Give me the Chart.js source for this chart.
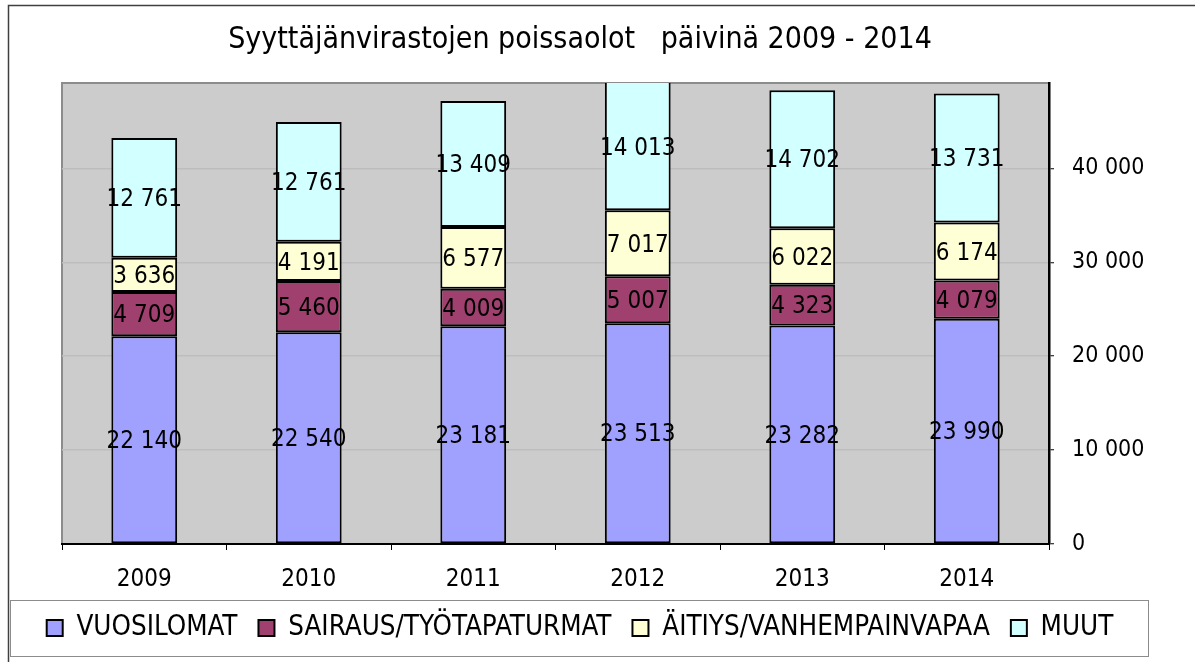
<!DOCTYPE html>
<html>
<head>
<meta charset="utf-8">
<script src="https://cdn.jsdelivr.net/npm/chart.js@4/dist/chart.umd.min.js"></script>
<style>
  html, body { margin: 0; padding: 0; background: #fff; }
  #wrap { position: relative; width: 1195px; height: 662px; }
</style>
</head>
<body>
<div id="wrap"><canvas id="c" width="1195" height="662"></canvas></div>
<script>
const categories = ['2009', '2010', '2011', '2012', '2013', '2014'];
const vuosilomat = [22140, 22540, 23181, 23513, 23282, 23990];
const sairaus = [4709, 5460, 4009, 5007, 4323, 4079];
const aitiys = [3636, 4191, 6577, 7017, 6022, 6174];
const muut = [12761, 12761, 13409, 14013, 14702, 13731];
const seriesNames = ['VUOSILOMAT', 'SAIRAUS/TYÖTAPATURMAT', 'ÄITIYS/VANHEMPAINVAPAA', 'MUUT'];
const yTicks = [0, 10000, 20000, 30000, 40000];
const titleText = 'Syyttäjänvirastojen poissaolot   päivinä 2009 - 2014';

const FONT = "'DejaVu Sans Condensed', 'Open Sans', sans-serif";
const fmt = v => String(v).replace(/\B(?=(\d{3})+(?!\d))/g, ' ');

const framePlugin = {
  id: 'frame',
  beforeDraw(chart) {
    const { ctx, chartArea: a } = chart;
    ctx.save();
    ctx.strokeStyle = '#404040';
    ctx.lineWidth = 1.5;
    ctx.beginPath();
    ctx.moveTo(8.5, 662);
    ctx.lineTo(8.5, 5.5);
    ctx.lineTo(1195, 5.5);
    ctx.stroke();
    ctx.fillStyle = '#CCCCCC';
    ctx.fillRect(a.left, a.top, a.right - a.left, a.bottom - a.top);
    ctx.strokeStyle = '#8C8C8C';
    ctx.lineWidth = 2;
    ctx.beginPath();
    ctx.moveTo(a.left, a.bottom);
    ctx.lineTo(a.left, a.top);
    ctx.lineTo(a.right, a.top);
    ctx.stroke();
    ctx.restore();
  },
  afterDraw(chart) {
    const { ctx } = chart;
    const lg = chart.legend;
    ctx.save();
    ctx.strokeStyle = '#8C8C8C';
    ctx.lineWidth = 1;
    ctx.strokeRect(lg.left + 0.5, Math.round(lg.top + 6.75) + 0.5, lg.right - lg.left - 2, 56);
    ctx.restore();
  }
};

const labelPlugin = {
  id: 'segLabels',
  afterDatasetsDraw(chart) {
    const { ctx, chartArea: a } = chart;
    ctx.save();
    ctx.font = '24px ' + FONT;
    ctx.fillStyle = '#000';
    ctx.textAlign = 'center';
    ctx.textBaseline = 'middle';
    chart.data.datasets.forEach((ds, di) => {
      const meta = chart.getDatasetMeta(di);
      meta.data.forEach((el, i) => {
        const top = Math.max(el.y, a.top);
        const cy = (top + el.base) / 2 + 2;
        ctx.fillText(fmt(ds.data[i]), el.x, cy);
      });
    });
    ctx.restore();
  }
};

const mk = (label, data, color) => ({
  label, data,
  backgroundColor: color,
  borderColor: '#000',
  borderWidth: 2,
  borderSkipped: false,
  categoryPercentage: 1.0,
  barPercentage: 0.4
});

new Chart(document.getElementById('c'), {
  type: 'bar',
  data: {
    labels: categories,
    datasets: [
      mk(seriesNames[0], vuosilomat, '#A0A0FF'),
      mk(seriesNames[1], sairaus, '#A0406F'),
      mk(seriesNames[2], aitiys, '#FFFFD5'),
      mk(seriesNames[3], muut, '#D2FFFF')
    ]
  },
  options: {
    responsive: false,
    animation: false,
    layout: { padding: { left: 10, right: 45, top: 0, bottom: 10.25 } },
    plugins: {
      title: {
        display: true,
        text: titleText,
        color: '#000',
        font: { family: FONT, size: 30, weight: 'normal', lineHeight: 1.2 },
        padding: { top: 22, bottom: 25 }
      },
      legend: {
        position: 'bottom',
        labels: {
          color: '#000',
          font: { family: FONT, size: 27.5 },
          boxWidth: 16,
          boxHeight: 16,
          padding: 21
        }
      },
      tooltip: { enabled: false }
    },
    scales: {
      x: {
        stacked: true,
        grid: { offset: true, drawOnChartArea: false, drawTicks: true, tickLength: 6, tickColor: '#000', tickWidth: 1 },
        border: { display: true, color: '#000', width: 2 },
        ticks: { color: '#000', font: { family: FONT, size: 24 }, padding: 15, maxRotation: 0 },
        afterFit(s) { s.height = 49.25; }
      },
      y: {
        stacked: true,
        position: 'right',
        min: 0,
        max: 49100,
        afterBuildTicks(s) { s.ticks = yTicks.map(v => ({ value: v })); },
        grid: { color: '#BDBDBD', lineWidth: 1.5, drawTicks: true, tickLength: 5, tickColor: '#000', tickWidth: 1 },
        border: { display: true, color: '#000', width: 2.5 },
        ticks: { color: '#000', font: { family: FONT, size: 23 }, padding: 18, callback: v => fmt(v) },
        afterFit(s) { s.width = 101; }
      },
      yl: {
        position: 'left',
        display: true,
        grid: { display: false, drawTicks: false },
        border: { display: false },
        ticks: { display: false },
        afterFit(s) { s.width = 52; }
      }
    }
  },
  plugins: [framePlugin, labelPlugin]
});
</script>
</body>
</html>
